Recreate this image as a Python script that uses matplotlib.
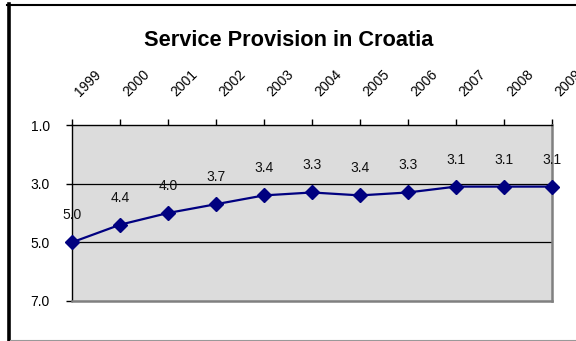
import matplotlib.pyplot as plt
from matplotlib.lines import Line2D
import numpy as np

years = ['1999', '2000', '2001', '2002', '2003', '2004',
         '2005', '2006', '2007', '2008', '2009']
scores = [5.0, 4.4, 4.0, 3.7, 3.4, 3.3, 3.4, 3.3, 3.1, 3.1, 3.1]
y_ticks = [1.0, 3.0, 5.0, 7.0]

plt.rcParams['font.family'] = ['Liberation Sans', 'DejaVu Sans']

W, H = 576, 341
fig = plt.figure(figsize=(W / 100, H / 100), dpi=100)
fig.patch.set_facecolor('white')

# plot area in pixel terms
left, right, top, bottom = 72, 552, 125, 301
ax = fig.add_axes([left / W, 1 - bottom / H, (right - left) / W, (bottom - top) / H])
ax.set_facecolor('#dcdcdc')

x = np.arange(len(years))
ax.plot(x, scores, color='#000080', lw=1.6, marker='D', markersize=7,
        zorder=4, clip_on=False)

for xi, v in zip(x, scores):
    ax.annotate(f'{v:.1f}', (xi, v), xytext=(0, 19.5), textcoords='offset points',
                ha='center', va='center', fontsize=10, color='#111111', zorder=5)

ax.set_xlim(0, len(years) - 1)
ax.set_ylim(7.0, 1.0)

# gridlines at inner y ticks
for g in y_ticks[1:-1]:
    ax.axhline(g, color='black', lw=0.9, zorder=2)

ax.set_yticks(y_ticks)
ax.set_yticklabels([f'{t:.1f}' for t in y_ticks])
ax.tick_params(axis='y', direction='out', length=4, width=1, pad=12,
               labelsize=10, colors='black')

# year labels along the top, slanted
ax.xaxis.tick_top()
ax.set_xticks(x)
ax.set_xticklabels([])
ax.tick_params(axis='x', direction='out', length=4, width=1)
for xi, yr in zip(x, years):
    ax.annotate(yr, (xi, 1.0), xycoords=('data', 'axes fraction'),
                xytext=(6, 20), textcoords='offset points', rotation=45,
                rotation_mode='anchor', ha='left', va='baseline', fontsize=10,
                annotation_clip=False)

ax.spines['left'].set_color('black')
ax.spines['top'].set_color('black')
ax.spines['left'].set_linewidth(1.0)
ax.spines['top'].set_linewidth(1.0)
ax.spines['right'].set_color('#808080')
ax.spines['bottom'].set_color('#808080')
ax.spines['right'].set_linewidth(1.8)
ax.spines['bottom'].set_linewidth(1.8)

fig.text(289 / W, 1 - 40.5 / H, 'Service Provision in Croatia', ha='center',
         va='center', fontsize=15.7, fontweight='bold')

# outer frame: black on top and left, gray at the bottom
fig.add_artist(Line2D([7 / W, 1], [1 - 5 / H, 1 - 5 / H], color='black',
                      lw=1.5, transform=fig.transFigure))
fig.add_artist(Line2D([9 / W, 9 / W], [1 - 4 / H, 0], color='black',
                      lw=2.6, transform=fig.transFigure))
fig.add_artist(Line2D([10 / W, 1], [1 - 339.5 / H, 1 - 339.5 / H], color='#999999',
                      lw=0.8, transform=fig.transFigure))

fig.savefig('out.png', dpi=100)
